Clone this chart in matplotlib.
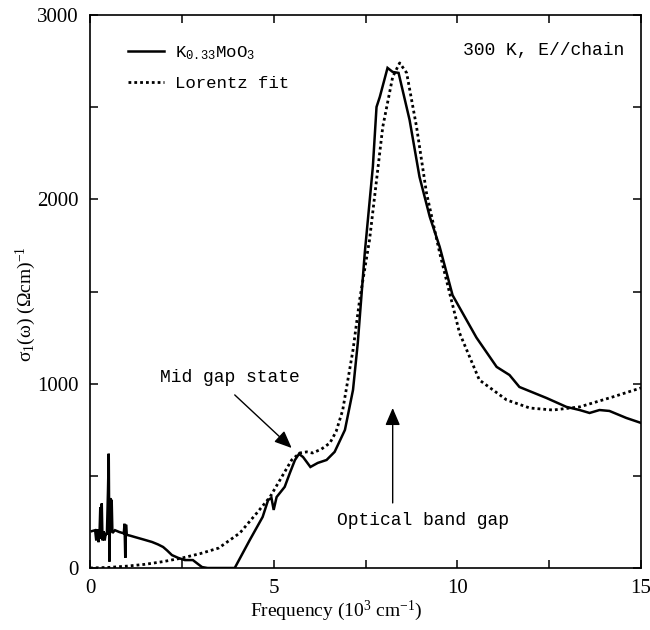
import numpy as np
import matplotlib
matplotlib.use("Agg")
import matplotlib.pyplot as plt

# measured sigma_1 (solid), 10^3 cm^-1 vs (Ohm cm)^-1
freq_meas = [0.05, 0.14, 0.17, 0.20, 0.23, 0.26, 0.28, 0.30, 0.32, 0.34, 0.37, 0.40,
             0.43, 0.46, 0.49, 0.51, 0.53, 0.55, 0.57, 0.59, 0.61, 0.68, 0.80, 0.92,
             0.94, 0.96, 0.98, 1.00, 1.10, 1.22, 1.45, 1.69, 1.85, 1.99, 2.10, 2.23,
             2.40, 2.58, 2.80, 2.95, 3.05, 3.20, 3.60, 3.94, 4.35, 4.70, 4.85, 4.94,
             5.00, 5.08, 5.30, 5.44, 5.58, 5.69, 5.80, 6.00, 6.20, 6.44, 6.66, 6.94,
             7.16, 7.29, 7.48, 7.70, 7.80, 7.89, 8.10, 8.24, 8.40, 8.70, 8.97, 9.25,
             9.52, 9.87, 10.52, 11.07, 11.42, 11.69, 12.43, 12.97, 13.33, 13.60, 13.87,
             14.14, 14.60, 15.00]
sigma_meas = [200, 205, 150, 210, 140, 190, 330, 160, 350, 150, 200, 150,
              190, 180, 420, 620, 35, 380, 200, 370, 190, 205, 195, 188,
              240, 55, 235, 180, 175, 168, 155, 141, 128, 114, 95, 70,
              55, 43, 43, 20, 5, 0, 0, 0, 152, 277, 369, 380,
              315, 385, 440, 515, 586, 619, 602, 548, 570, 586, 630, 749,
              966, 1221, 1709, 2176, 2501, 2556, 2713, 2691, 2686, 2431, 2122, 1905,
              1742, 1480, 1250, 1091, 1047, 982, 922, 874, 857, 841, 857,
              852, 814, 787]

# Lorentz fit (dotted)
freq_fit = [0.0, 0.5, 1.0, 1.5, 2.0, 2.5, 3.0, 3.5, 4.08, 4.54, 4.9, 5.17, 5.49,
            5.71, 5.9, 6.06, 6.3, 6.53, 6.7, 6.88, 7.16, 7.34, 7.61, 7.97, 8.24,
            8.43, 8.62, 8.89, 9.16, 9.52, 10.06, 10.6, 11.34, 11.97, 12.6, 13.33,
            14.23, 15.0]
sigma_fit = [0, 3, 10, 20, 35, 54, 78, 108, 190, 298, 385, 477, 586,
             624, 630, 624, 645, 678, 740, 857, 1183, 1454, 1780, 2393, 2664,
             2740, 2686, 2393, 2035, 1709, 1275, 1020, 912, 868, 857, 874,
             928, 977]

plt.rcParams["mathtext.default"] = "regular"
mono = "Liberation Mono"
serif = "Liberation Serif"

fig = plt.figure(figsize=(6.5, 6.3), dpi=100)
ax = fig.add_axes([90 / 650, 62 / 630, 551 / 650, 553 / 630])

ax.plot(freq_meas, sigma_meas, color="black", lw=1.8, solid_joinstyle="miter",
        label=r"K$_{0.33}$MoO$_3$")
ax.plot(freq_fit, sigma_fit, color="black", lw=2.0, linestyle=(0, (1, 1.1)),
        label="Lorentz fit")

ax.set_xlim(0, 15)
ax.set_ylim(0, 3000)
ax.set_xticks([0, 5, 10, 15])
ax.set_xticks([2.5, 7.5, 12.5], minor=True)
ax.set_yticks([0, 1000, 2000, 3000])
ax.set_yticks([500, 1500, 2500], minor=True)
ax.tick_params(which="both", direction="in", top=True, right=True,
               length=6, width=1.1)
ax.tick_params(axis="x", pad=8)
ax.tick_params(axis="y", pad=8)
for lab in ax.get_xticklabels() + ax.get_yticklabels():
    lab.set_fontfamily(serif)
    lab.set_fontsize(15)
for sp in ax.spines.values():
    sp.set_linewidth(1.2)

ax.set_xlabel(r"Frequency (10$^3$ cm$^{-1}$)", family=serif, fontsize=14)
ax.xaxis.set_label_coords((336 - 90) / 551, -0.055)
ax.set_ylabel(r"σ$_1$(ω) (Ωcm)$^{-1}$", family=serif, fontsize=14)
ax.yaxis.set_label_coords(-0.095, (568 - 304) / 553)

leg = ax.legend(loc="upper left", bbox_to_anchor=(0.04, 0.975), frameon=False,
                prop={"family": mono, "size": 12.5}, handlelength=2.1,
                handletextpad=0.6, labelspacing=0.8)

ax.text(0.97, 0.935, "300 K, E//chain", transform=ax.transAxes, ha="right",
        va="center", family=mono, fontsize=13)

arrow = dict(arrowstyle="-|>,head_length=0.7,head_width=0.3", lw=1.0,
             color="black", mutation_scale=15, shrinkA=0, shrinkB=0)
ax.text(3.81, 1036, "Mid gap state", ha="center", va="center", family=mono,
        fontsize=13)
ax.annotate("", xy=(5.49, 651), xytext=(3.94, 939), arrowprops=arrow)
ax.text(9.07, 260, "Optical band gap", ha="center", va="center", family=mono,
        fontsize=13)
ax.annotate("", xy=(8.24, 868), xytext=(8.24, 353), arrowprops=arrow)

fig.savefig("out.png", dpi=100)
